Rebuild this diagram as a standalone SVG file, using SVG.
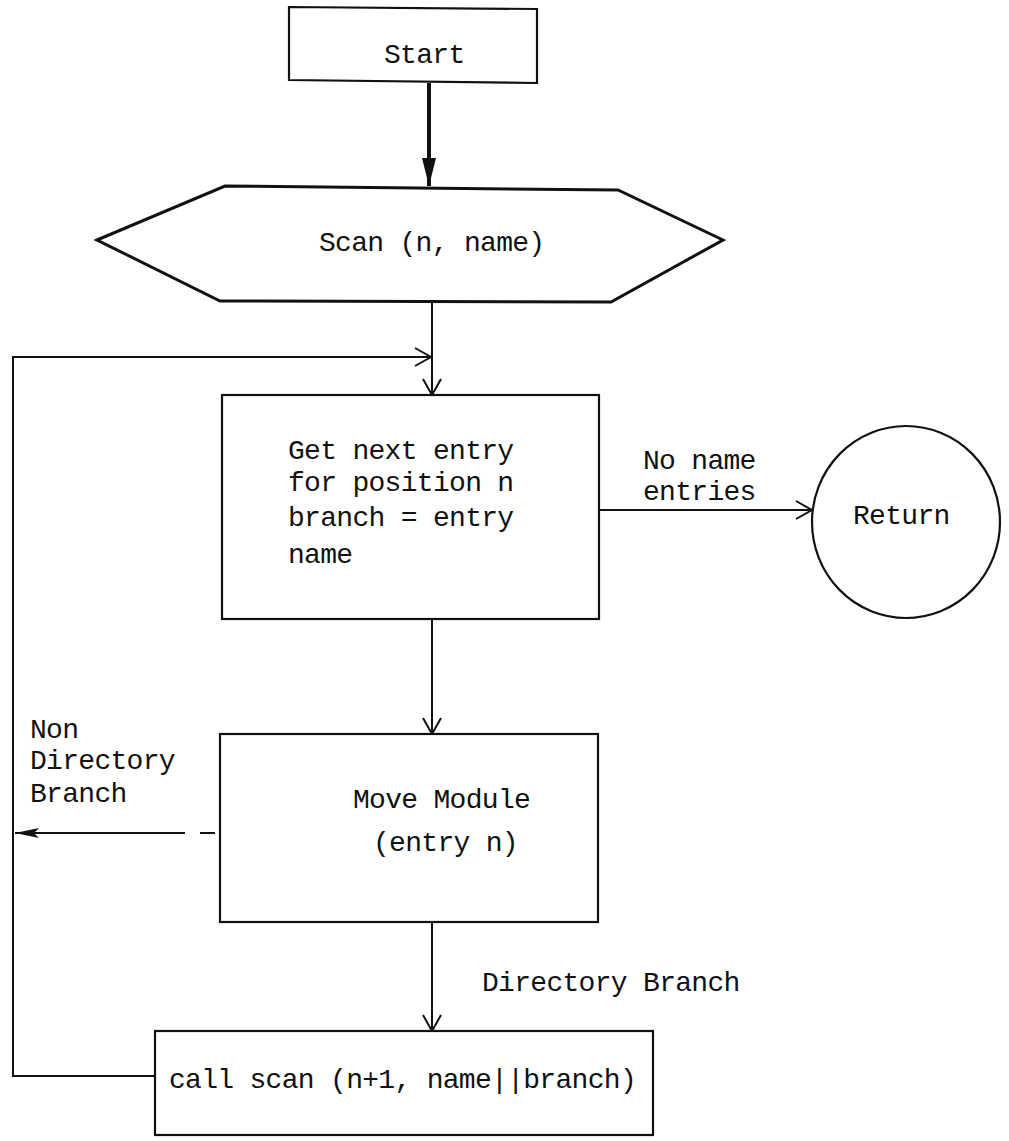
<svg xmlns="http://www.w3.org/2000/svg" width="1009" height="1141" viewBox="0 0 1009 1141">
<style>
.t{font-family:"Liberation Mono","Courier New",monospace;font-size:28px;letter-spacing:-0.7px;fill:#111}
.n{fill:#fff;stroke:#111;stroke-width:2.2}
.c{fill:none;stroke:#111;stroke-width:2}
</style>
<defs>
<marker id="open" markerUnits="userSpaceOnUse" markerWidth="20" markerHeight="22" refX="17" refY="10" orient="auto">
<path d="M1,1 L17,10 L1,19" fill="none" stroke="#111" stroke-width="2"/>
</marker>
<marker id="fill" markerUnits="userSpaceOnUse" markerWidth="30" markerHeight="16" refX="28" refY="7" orient="auto">
<path d="M0,0 L28,7 L0,14 Z" fill="#111"/>
</marker>
<marker id="fillL" markerUnits="userSpaceOnUse" markerWidth="26" markerHeight="14" refX="24" refY="6" orient="auto">
<path d="M0,1 L24,6 L0,11 L5,6 Z" fill="#111"/>
</marker>
</defs>
<g id="connectors">
<line x1="429" y1="83" x2="429" y2="186" stroke="#111" stroke-width="4" marker-end="url(#fill)"/>
<line class="c" x1="432" y1="301" x2="432" y2="395" marker-end="url(#open)"/>
<polyline class="c" points="155,1076 13,1076 13,357 431,357" marker-end="url(#open)"/>
<line class="c" x1="599" y1="510" x2="812" y2="510" marker-end="url(#open)"/>
<line class="c" x1="432" y1="619" x2="432" y2="734" marker-end="url(#open)"/>
<line class="c" x1="432" y1="922" x2="432" y2="1031" marker-end="url(#open)"/>
<path class="c" d="M200,833 L215,833"/>
<line class="c" x1="185" y1="833" x2="15" y2="833" marker-end="url(#fillL)"/>
</g>
<g id="start">
<polygon class="n" points="289,7 537,9 537,83 289,80"/>
<text class="t" x="384" y="63">Start</text>
</g>
<g id="scan">
<polygon class="n" style="stroke-width:3" points="97,240 225,186 618,190 723,240 611,302 220,301"/>
<text class="t" x="319" y="251">Scan (n, name)</text>
</g>
<g id="getnext">
<rect class="n" x="222" y="395" width="377" height="224"/>
<text class="t" x="288" y="459">Get next entry</text>
<text class="t" x="288" y="491">for position n</text>
<text class="t" x="288" y="526">branch = entry</text>
<text class="t" x="288" y="563">name</text>
</g>
<g id="return">
<ellipse class="n" cx="906" cy="522" rx="94" ry="96"/>
<text class="t" x="853" y="524">Return</text>
</g>
<g id="move">
<rect class="n" x="220" y="734" width="378" height="188"/>
<text class="t" x="353" y="808">Move Module</text>
<text class="t" x="373" y="851">(entry n)</text>
</g>
<g id="call">
<rect class="n" x="155" y="1031" width="498" height="104"/>
<text class="t" x="169" y="1088">call scan (n+1, name||branch)</text>
</g>
<g id="labels">
<text class="t" x="643" y="469">No name</text>
<text class="t" x="643" y="500">entries</text>
<text class="t" x="30" y="738">Non</text>
<text class="t" x="30" y="769">Directory</text>
<text class="t" x="30" y="802">Branch</text>
<text class="t" x="482" y="991">Directory Branch</text>
</g>
</svg>
